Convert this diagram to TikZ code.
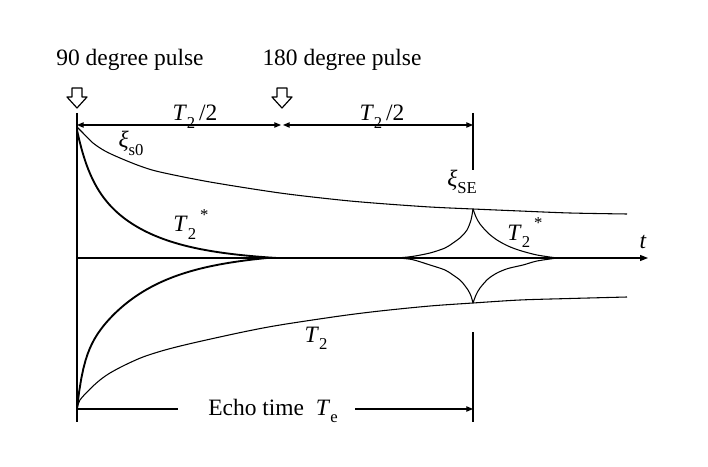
\documentclass[tikz,border=0pt]{standalone}
\usepackage{fontspec}
\setmainfont{Liberation Serif}
\usetikzlibrary{arrows.meta, positioning, calc}

\newcommand{\lowidx}[1]{\raisebox{-0.3em}{\fontsize{12.5}{12.5}\selectfont #1}}
\newcommand{\highidx}[1]{\raisebox{0.5em}{\fontsize{12.5}{12.5}\selectfont #1}}

\tikzset{
  every node/.style={font=\fontsize{17.6}{20}\selectfont, inner sep=0pt},
  thincurve/.style={line width=0.8pt},
  thickcurve/.style={line width=1.4pt},
  dimline/.style={line width=0.8pt, {Triangle[length=5pt,width=4pt]}-{Triangle[length=5pt,width=4pt]}},
  pulsearrow/.style={line width=0.9pt, fill=white}
}

\begin{document}
\begin{tikzpicture}[x=0.75pt, y=-0.75pt, line join=round]
    \useasboundingbox (0,0) rectangle (708,467);
    % axes and markers
    \coordinate (O) at (77,258);
    \coordinate (tEnd) at (648,258);
    \coordinate (V0top) at (77,113);
    \coordinate (V0bot) at (77,422);
    \coordinate (VEtop) at (473,113);
    \coordinate (VEmid) at (473,170);
    \coordinate (VElow) at (473,332);
    \coordinate (VEbot) at (473,422);
    \coordinate (D0) at (77,125);
    \coordinate (D1a) at (281,125);
    \coordinate (D1b) at (283,125);
    \coordinate (D2) at (473,125);
    \coordinate (E0) at (77,409);
    \coordinate (E1) at (178,409);
    \coordinate (E2) at (355,409);
    \coordinate (E3) at (473,409);
    \draw[line width=0.8pt] (V0top) -- (V0bot) (VEtop) -- (VEmid) (VElow) -- (VEbot);
    \draw[line width=0.8pt, -{Triangle[length=6pt,width=4.5pt]}] (O) -- (tEnd);
    \draw[dimline] (D0) -- (D1a);
    \draw[dimline] (D1b) -- (D2);
    \draw[line width=0.8pt] (E0) -- (E1);
    \draw[line width=0.8pt, -{Triangle[length=5pt,width=4pt]}] (E2) -- (E3);
    % pulses
    \foreach \px in {77,282} {
      \draw[pulsearrow] (\px-5,88) -- (\px+5,88) -- (\px+5,97) -- (\px+10,97)
        -- (\px,108) -- (\px-10,97) -- (\px-5,97) -- cycle;
    }
    % envelopes
    \draw[thincurve] plot[smooth] coordinates {(77,127) (83,133) (93,143) (105,151)
      (120,158) (140,166) (160,172) (210,182) (280,193) (340,200) (380,203.5)
      (430,207) (473,209) (520,211) (570,213) (627,214)};
    \draw[thincurve] plot[smooth] coordinates {(77,409) (80,400) (90,389) (100,380)
      (110,373) (125,365) (143,357) (165,350) (193,343) (243,332) (280,325)
      (340,316) (380,311) (430,306) (473,303) (520,300) (570,298.5) (627,297)};
    % free induction decay
    \draw[thickcurve] plot[domain=0:200, samples=90]
      ({77+\x}, {258-128*(0.3*exp(-\x/12)+0.7*exp(-\x/58)-0.0223*\x/200)}) -- (295,258);
    \draw[thickcurve] plot[domain=0:190, samples=90]
      ({77+\x}, {258+151*(0.3*exp(-\x/6)+0.7*exp(-\x/60)-0.0295*\x/190)}) -- (285,258);
    % echo
    \draw[thincurve] plot[smooth] coordinates {(397,258) (412,256.5) (430,253)
      (445,248) (453,243) (461,237) (467,230) (471,220) (473,209)};
    \draw[thincurve] plot[smooth] coordinates {(473,209) (476,217) (480,224)
      (488,233) (497,240) (508,246) (520,250.5) (537,255) (557,258)};
    \draw[thincurve] plot[smooth] coordinates {(397,258) (412,259.5) (430,265)
      (445,270) (453,275) (461,281) (468,290) (471,296) (473,303)};
    \draw[thincurve] plot[smooth] coordinates {(473,303) (476,295) (480,288)
      (488,279) (497,273) (508,268.5) (523,265) (537,261) (557,258)};
    % labels
    \node[anchor=base] (lab90) at (130,66) {90 degree pulse};
    \node[anchor=base] (lab180) at (342,66) {180 degree pulse};
    \node[anchor=base] (halfA) at (195,121) {\textit{T}\lowidx{2}\,/2};
    \node[anchor=base] (halfB) at (382,121) {\textit{T}\lowidx{2}\,/2};
    \node[anchor=base] (xiS0) at (131,148) {\textit{ξ}\lowidx{s0}};
    \node[anchor=base] (xiSE) at (462,186) {\textit{ξ}\lowidx{SE}};
    \node[anchor=base] (fidA) at (191,232) {\textit{T}\lowidx{2}\,\highidx{*}};
    \node[anchor=base] (fidB) at (525,240) {\textit{T}\lowidx{2}\,\highidx{*}};
    \node[anchor=base] (decay) at (316,342) {\textit{T}\lowidx{2}};
    \node[anchor=base] (tLab) at (643,248) {\textit{t}};
    \node[anchor=base] (echo) at (273,415) {Echo time~~\textit{T}\lowidx{e}};
\end{tikzpicture}
\end{document}
